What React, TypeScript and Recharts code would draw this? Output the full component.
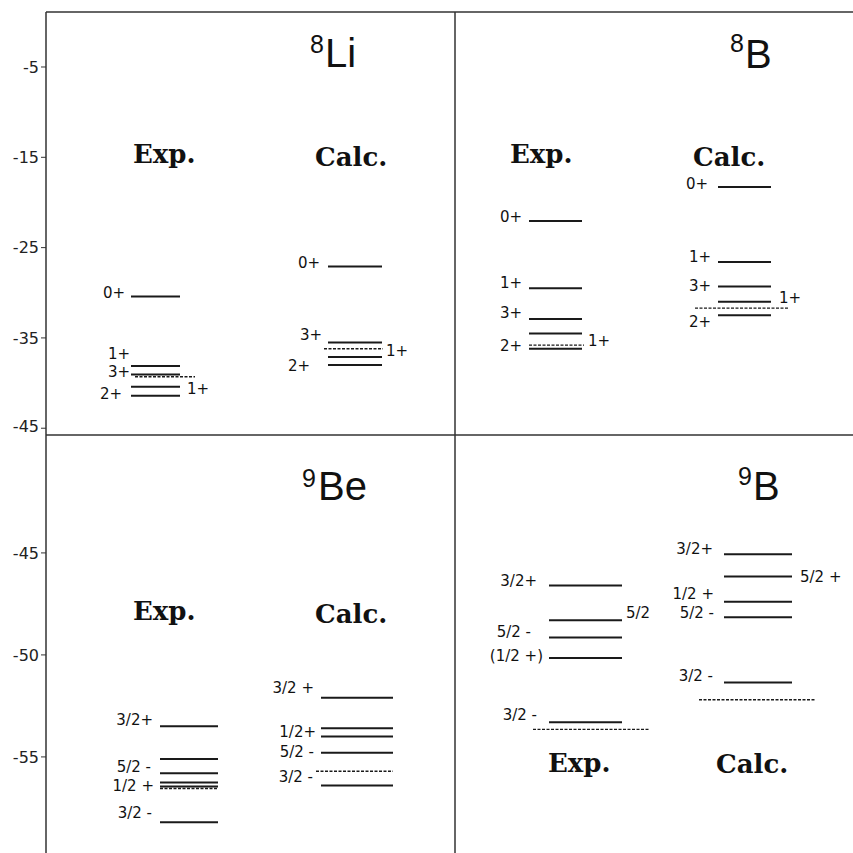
import React from 'react';
import { ComposedChart, Scatter, XAxis, YAxis, ReferenceLine } from 'recharts';

// ---- data (binding energies, MeV) ----
// top row: 8Li | 8B
const li8ExpLevels = [-30.4, -38.1, -39.05, -40.4, -41.4];
const li8ExpThreshold = -39.3;
const li8ExpLabels = ['0+', '1+', '3+', '2+', '1+'];
const li8ExpLabelE = [-30.03, -36.78, -38.78, -41.21, -40.66];

const li8CalcLevels = [-27.1, -35.5, -37.1, -38.0];
const li8CalcThreshold = -36.2;
const li8CalcLabels = ['0+', '3+', '1+', '2+'];
const li8CalcLabelE = [-26.71, -34.68, -36.45, -38.11];

const b8ExpLevels = [-22.05, -29.5, -32.9, -34.5, -36.2];
const b8ExpThreshold = -35.8;
const b8ExpLabels = ['0+', '1+', '3+', '2+', '1+'];
const b8ExpLabelE = [-21.61, -28.92, -32.24, -35.9, -35.35];

const b8CalcLevels = [-18.3, -26.6, -29.3, -31.0, -32.5];
const b8CalcThreshold = -31.7;
const b8CalcLabels = ['0+', '1+', '3+', '1+', '2+'];
const b8CalcLabelE = [-17.96, -26.04, -29.25, -30.58, -33.24];

// bottom row: 9Be | 9B
const be9ExpLevels = [-53.5, -55.1, -55.8, -56.25, -56.45, -58.2];
const be9ExpThreshold = -56.55;
const be9ExpLabels = ['3/2+', '5/2 -', '1/2 +', '3/2 -'];
const be9ExpLabelE = [-53.19, -55.49, -56.42, -57.75];

const be9CalcLevels = [-52.1, -53.6, -54.0, -54.8, -56.4];
const be9CalcThreshold = -55.7;
const be9CalcLabels = ['3/2 +', '1/2+', '5/2 -', '3/2 -'];
const be9CalcLabelE = [-51.62, -53.77, -54.75, -55.98];

const b9ExpLevels = [-46.6, -48.3, -49.15, -50.15, -53.3];
const b9ExpThreshold = -53.65;
const b9ExpLabels = ['3/2+', '5/2', '5/2 -', '(1/2 +)', '3/2 -'];
const b9ExpLabelE = [-46.37, -47.94, -48.87, -50.05, -52.94];

const b9CalcLevels = [-45.06, -46.16, -47.4, -48.15, -51.35];
const b9CalcThreshold = -52.2;
const b9CalcLabels = ['3/2+', '5/2 +', '1/2 +', '5/2 -', '3/2 -'];
const b9CalcLabelE = [-44.8, -46.18, -47.01, -47.94, -51.03];

const topTicks = [-5, -15, -25, -35, -45];
const bottomTicks = [-45, -50, -55];

// ---- layout (page pixels) ----
const W = 853;
const AXIS_W = 46;
const DIVIDER_X = 455;

type Col = {
  levels: number[];
  threshold: number;
  labels: string[];
  labelE: number[];
  line: [number, number];
  dash: [number, number];
  labelX: number[];
};

const topCols: Col[] = [
  { levels: li8ExpLevels, threshold: li8ExpThreshold, labels: li8ExpLabels, labelE: li8ExpLabelE, line: [131, 180], dash: [135, 195], labelX: [125, 130, 130, 122, 187] },
  { levels: li8CalcLevels, threshold: li8CalcThreshold, labels: li8CalcLabels, labelE: li8CalcLabelE, line: [328, 382], dash: [324, 383], labelX: [320, 322, 386, 310] },
  { levels: b8ExpLevels, threshold: b8ExpThreshold, labels: b8ExpLabels, labelE: b8ExpLabelE, line: [529, 582], dash: [529, 584], labelX: [522, 522, 522, 522, 588] },
  { levels: b8CalcLevels, threshold: b8CalcThreshold, labels: b8CalcLabels, labelE: b8CalcLabelE, line: [718, 771], dash: [695, 788], labelX: [708, 711, 711, 779, 711] },
];

const bottomCols: Col[] = [
  { levels: be9ExpLevels, threshold: be9ExpThreshold, labels: be9ExpLabels, labelE: be9ExpLabelE, line: [160, 218], dash: [160, 218], labelX: [153, 151, 154, 152] },
  { levels: be9CalcLevels, threshold: be9CalcThreshold, labels: be9CalcLabels, labelE: be9CalcLabelE, line: [321, 393], dash: [316, 393], labelX: [314, 316, 314, 313] },
  { levels: b9ExpLevels, threshold: b9ExpThreshold, labels: b9ExpLabels, labelE: b9ExpLabelE, line: [549, 622], dash: [533, 649], labelX: [537, 626, 531, 543, 537] },
  { levels: b9CalcLevels, threshold: b9CalcThreshold, labels: b9CalcLabels, labelE: b9CalcLabelE, line: [724, 792], dash: [699, 815], labelX: [713, 800, 714, 714, 713] },
];

const levelRows = (cols: Col[]) =>
  cols.flatMap((c) => [
    ...c.levels.map((e) => ({ x: c.line[0] - AXIS_W, y: e, w: c.line[1] - c.line[0], dashed: false })),
    { x: c.dash[0] - AXIS_W, y: c.threshold, w: c.dash[1] - c.dash[0], dashed: true },
  ]);

const labelRows = (cols: Col[]) =>
  cols.flatMap((c) =>
    c.labels.map((t, i) => ({
      x: c.labelX[i] - AXIS_W,
      y: c.labelE[i],
      text: t,
      anchor: c.labelX[i] > c.line[1] ? 'start' : 'end',
    }))
  );

const LevelShape = (props: any) => {
  const { cx, cy, payload } = props;
  return (
    <line
      x1={cx}
      x2={cx + payload.w}
      y1={cy}
      y2={cy}
      stroke="#1a1a1a"
      strokeWidth={payload.dashed ? 1.4 : 2}
      strokeDasharray={payload.dashed ? '3 1.5' : undefined}
    />
  );
};

const LabelShape = (props: any) => {
  const { cx, cy, payload } = props;
  return (
    <text
      x={cx}
      y={cy}
      textAnchor={payload.anchor}
      dominantBaseline="central"
      fontFamily="DejaVu Sans"
      fontSize={15}
      fill="#111"
    >
      {payload.text}
    </text>
  );
};

const tickStyle = { fontSize: 16, fontFamily: 'DejaVu Sans', fill: '#222' };

const Row = ({ cols, domain, ticks, height, top }: { cols: Col[]; domain: [number, number]; ticks: number[]; height: number; top: number }) => (
  <ComposedChart width={W} height={height} margin={{ top, right: 0, bottom: 0, left: 0 }}>
    <XAxis type="number" dataKey="x" domain={[0, W - AXIS_W]} hide allowDataOverflow />
    <YAxis
      type="number"
      dataKey="y"
      domain={domain}
      ticks={ticks}
      width={AXIS_W}
      tickSize={5}
      tick={tickStyle}
      tickLine={{ stroke: '#333' }}
      axisLine={{ stroke: '#333', strokeWidth: 1.5 }}
      allowDataOverflow
    />
    <ReferenceLine y={domain[1]} stroke="#333" strokeWidth={1.5} />
    <ReferenceLine x={DIVIDER_X - AXIS_W} stroke="#333" strokeWidth={1.5} />
    <Scatter data={levelRows(cols)} shape={<LevelShape />} isAnimationActive={false} />
    <Scatter data={labelRows(cols)} shape={<LabelShape />} isAnimationActive={false} />
  </ComposedChart>
);

const serifHead = { fontFamily: 'DejaVu Serif', fontWeight: 700, fontSize: 26, fill: '#111' } as const;
const sans = { fontFamily: 'Liberation Sans', fill: '#111' } as const;

const Titles = () => (
  <svg width={W} height={W} style={{ position: 'absolute', left: 0, top: 0, pointerEvents: 'none' }}>
    <text x={310} y={53} fontSize={25} {...sans}>8</text>
    <text x={325} y={67} fontSize={40} {...sans}>Li</text>
    <text x={730} y={52} fontSize={25} {...sans}>8</text>
    <text x={745} y={68} fontSize={40} {...sans}>B</text>
    <text x={302} y={487} fontSize={25} {...sans}>9</text>
    <text x={318} y={500} fontSize={40} {...sans}>Be</text>
    <text x={738} y={485} fontSize={25} {...sans}>9</text>
    <text x={753} y={500} fontSize={40} {...sans}>B</text>

    <text x={133} y={163} {...serifHead}>Exp.</text>
    <text x={315} y={166} {...serifHead}>Calc.</text>
    <text x={510} y={163} {...serifHead}>Exp.</text>
    <text x={693} y={166} {...serifHead}>Calc.</text>
    <text x={133} y={620} {...serifHead}>Exp.</text>
    <text x={315} y={623} {...serifHead}>Calc.</text>
    <text x={548} y={772} {...serifHead}>Exp.</text>
    <text x={716} y={773} {...serifHead}>Calc.</text>
  </svg>
);

export default function App() {
  return (
    <div style={{ position: 'absolute', left: 0, top: 0, width: W, height: W, background: '#fff', overflow: 'hidden' }}>
      <div style={{ position: 'absolute', left: 0, top: 0 }}>
        <Row cols={topCols} domain={[-45.75, 1.09]} ticks={topTicks} height={435} top={12} />
      </div>
      <div style={{ position: 'absolute', left: 0, top: 434 }}>
        <Row cols={bottomCols} domain={[-59.71, -39.22]} ticks={bottomTicks} height={419} top={1} />
      </div>
      <Titles />
    </div>
  );
}
